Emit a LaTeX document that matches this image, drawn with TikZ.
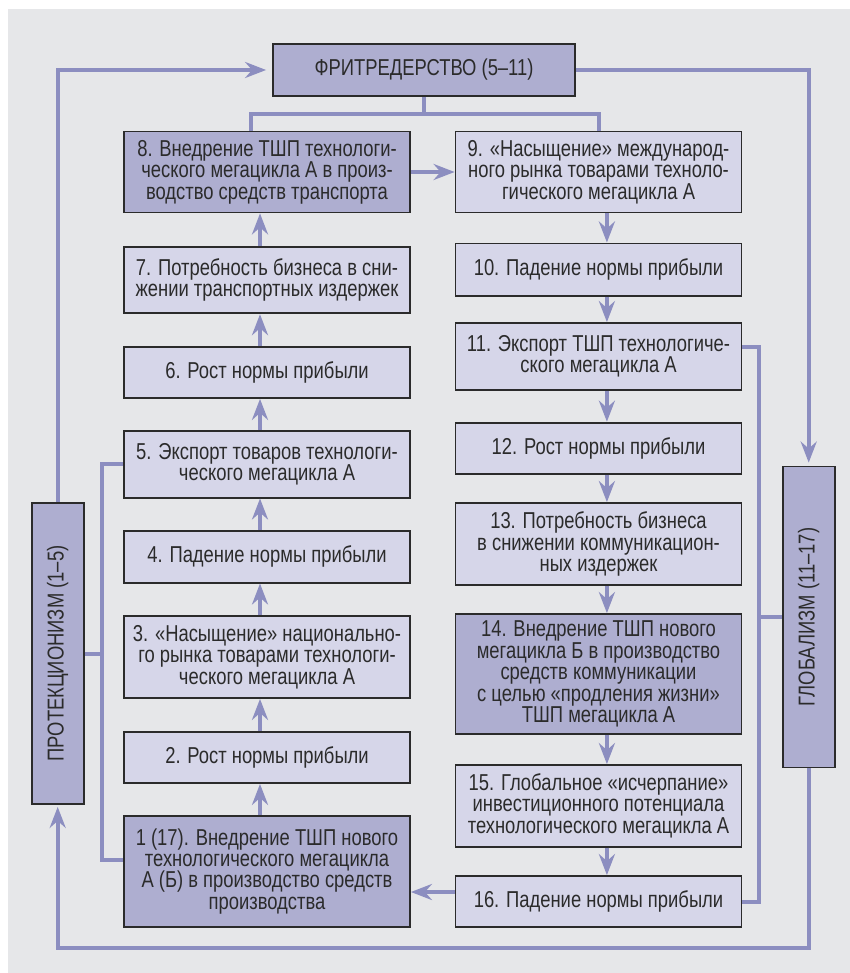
\documentclass[tikz,border=0pt]{standalone}
\usepackage{fontspec}
\setmainfont[FakeStretch=0.8]{Liberation Sans}
\usetikzlibrary{arrows.meta}
\definecolor{bgc}{HTML}{E6E7E9}
\definecolor{lightc}{HTML}{D6D6E9}
\definecolor{darkc}{HTML}{AEAED0}
\definecolor{linec}{HTML}{8C8EC0}
\definecolor{textc}{HTML}{2B2B2B}
\begin{document}
\begin{tikzpicture}[
      x=0.5pt, y=-0.5pt,
      every node/.style={font=\fontsize{11.5}{10.7}\selectfont, text=textc},
      box/.style={rectangle, draw=textc, line width=0.9pt, inner sep=0pt, align=center},
      lbox/.style={box, fill=lightc, minimum width=143pt},
      dbox/.style={box, fill=darkc, minimum width=143pt},
      side/.style={box, fill=darkc, rotate=90, minimum width=150.5pt, minimum height=26pt},
      ln/.style={draw=linec, line width=2pt},
      arr/.style={ln, -{Stealth[length=10.5pt, width=8pt, inset=3.5pt]}}
      ]
      \useasboundingbox (0,0) rectangle (850,973);
      \fill[bgc] (8,9) rectangle (850,973);

      \node[dbox, minimum width=151pt, minimum height=26pt] (frit) at (424,70) {ФРИТРЕДЕРСТВО (5–11)};

      \node[dbox, minimum height=40.5pt] (b8) at (267,172) {8. Внедрение ТШП технологи-\\ческого мегацикла А в произ-\\водство средств транспорта};
      \node[lbox, minimum height=33.3pt] (b7) at (267,280) {7. Потребность бизнеса в сни-\\жении транспортных издержек};
      \node[lbox, minimum height=25.7pt] (b6) at (267,372.3) {6. Рост нормы прибыли};
      \node[lbox, minimum height=33.3pt] (b5) at (267,464.3) {5. Экспорт товаров технологи-\\ческого мегацикла А};
      \node[lbox, minimum height=25.8pt] (b4) at (267,556.8) {4. Падение нормы прибыли};
      \node[lbox, minimum height=41pt] (b3) at (267,657) {3. «Насыщение» национально-\\го рынка товарами технологи-\\ческого мегацикла А};
      \node[lbox, minimum height=25.7pt] (b2) at (267,757.3) {2. Рост нормы прибыли};
      \node[dbox, minimum height=55.7pt] (b1) at (267,871.3) {1 (17). Внедрение ТШП нового\\технологического мегацикла\\А (Б) в производство средств\\производства};

      \node[lbox, minimum height=40.5pt] (b9) at (598.5,172) {9. «Насыщение» международ-\\ного рынка товарами техноло-\\гического мегацикла А};
      \node[lbox, minimum height=26.3pt] (b10) at (598.5,269.7) {10. Падение нормы прибыли};
      \node[lbox, minimum height=33.5pt] (b11) at (598.5,356.5) {11. Экспорт ТШП технологиче-\\ского мегацикла А};
      \node[lbox, minimum height=25.7pt] (b12) at (598.5,448.3) {12. Рост нормы прибыли};
      \node[lbox, minimum height=41pt] (b13) at (598.5,544) {13. Потребность бизнеса\\в снижении коммуникацион-\\ных издержек};
      \node[dbox, minimum height=60pt] (b14) at (598.5,674) {14. Внедрение ТШП нового\\мегацикла Б в производство\\средств коммуникации\\с целью «продления жизни»\\ТШП мегацикла А};
      \node[lbox, minimum height=40.8pt] (b15) at (598.5,805.8) {15. Глобальное «исчерпание»\\инвестиционного потенциала\\технологического мегацикла А};
      \node[lbox, minimum height=25.5pt] (b16) at (598.5,901.5) {16. Падение нормы прибыли};

      \node[side] (prot) at (57.7,653.5) {ПРОТЕКЦИОНИЗМ (1–5)};
      \node[side] (glob) at (808.7,617) {ГЛОБАЛИЗМ (11–17)};

      \coordinate (fork) at (424,114);
      \coordinate (lbr) at (102.3,652);
      \coordinate (rbr) at (759,613);
      \coordinate (bot) at (57.7,948);

      \foreach \a/\b in {b1/b2,b2/b3,b3/b4,b4/b5,b5/b6,b6/b7,b7/b8}
        \draw[arr] ([xshift=-3.5pt]\a.north) -- ([xshift=-3.5pt]\b.south);
      \foreach \a/\b in {b9/b10,b10/b11,b11/b12,b12/b13,b13/b14,b14/b15,b15/b16}
        \draw[arr] ([xshift=4.2pt]\a.south) -- ([xshift=4.2pt]\b.north);

      \draw[ln] (frit.south) -- (fork) -| ([xshift=-8.2pt]b8.north);
      \draw[ln] (fork) -| (b9.north);
      \draw[arr] (b8.east) -- (b9.west);
      \draw[arr, shorten >=3pt] (prot.east) |- (frit.west);
      \draw[arr, shorten >=1.5pt] (frit.east) -| (glob.east);
      \draw[arr, shorten >=1pt] (glob.west) |- (bot) -- (prot.west);
      \draw[ln] (b5.west) -| (lbr) |- ([yshift=5.5pt]b1.west);
      \draw[ln] (prot.south) -- (prot.south -| lbr);
      \draw[ln] ([yshift=5pt]b11.east) -| (rbr) |- (b16.east);
      \draw[ln] (glob.north) -- (glob.north -| rbr);
      \draw[arr] ([yshift=4.75pt]b16.west) -- ([yshift=4.75pt]b16.west -| b1.east);
    \end{tikzpicture}
\end{document}
